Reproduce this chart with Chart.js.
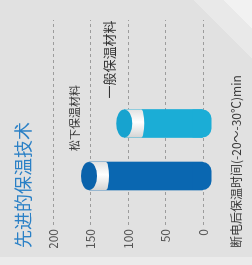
<!DOCTYPE html>
<html>
<head>
<meta charset="utf-8">
<script src="https://cdn.jsdelivr.net/npm/chart.js@4"></script>
<style>
  html, body { margin: 0; padding: 0; width: 252px; height: 265px; overflow: hidden; }
  body {
    background:
      linear-gradient(to bottom, rgba(255,255,255,0) 257px, rgba(255,255,255,0.35) 257px),
      linear-gradient(45deg, #e1e1e1 88.6%, #e9e9e9 88.6%, #e9e9e9 94.4%, #f2f2f2 94.4%);
  }
  /* 整张图逆时针转90度 */
  #wrap {
    position: absolute; left: 0; top: 0; width: 265px; height: 252px;
    transform-origin: 0 0; transform: translate(0, 265px) rotate(-90deg);
  }
</style>
</head>
<body>
<div id="wrap"><canvas id="chart" width="265" height="252"></canvas></div>
<script>
// 数据
const categories = ['松下保温材料', '一般保温材料'];
const values = [152, 105];
const yTicks = [0, 50, 100, 150, 200];
const barColors = ['#0a67b1', '#1badd6'];
const capColors = ['#0a62ab', '#17a3cf'];
const labelSizes = [11, 13];

const titleText = '先进的保温技术';
const axisText = '断电后保温时间(-20～-30℃)min';

Chart.defaults.font.family = '"Noto Sans CJK SC", "Noto Sans", sans-serif';

// 圆柱效果：底部圆角、白色盖子、顶面椭圆，以及柱子上方的名称
const cylinderPlugin = {
    id: 'cylinder',
    afterDatasetsDraw(chart) {
        const ctx = chart.ctx;
        const meta = chart.getDatasetMeta(0);
        const lid = 17;
        const capR = 8;
        meta.data.forEach((bar, i) => {
            const p = bar.getProps(['x', 'y', 'base', 'width'], true);
            const half = p.width / 2;
            const left = p.x - half;
            const right = p.x + half;
            ctx.save();

            // 底部圆角
            ctx.fillStyle = barColors[i];
            ctx.beginPath();
            ctx.roundRect(left, p.base - 10, p.width, 19, [0, 0, 9, 9]);
            ctx.fill();

            // 盖子
            const g = ctx.createLinearGradient(left, 0, right, 0);
            g.addColorStop(0, '#d4d4d4');
            g.addColorStop(0.55, '#ffffff');
            g.addColorStop(1, '#e2e2e2');
            ctx.fillStyle = g;
            ctx.fillRect(left, p.y, p.width, lid);
            ctx.beginPath();
            ctx.ellipse(p.x, p.y + lid, half, 3, 0, 0, Math.PI * 2);
            ctx.fill();

            // 顶面
            ctx.fillStyle = capColors[i];
            ctx.beginPath();
            ctx.ellipse(p.x, p.y, half, capR, 0, 0, Math.PI * 2);
            ctx.fill();

            // 名称
            ctx.fillStyle = '#333';
            ctx.font = labelSizes[i] + 'px "Noto Sans CJK SC"';
            ctx.textAlign = 'left';
            ctx.textBaseline = 'bottom';
            ctx.fillText(categories[i], p.x + 25, p.y - capR - 1);
            ctx.restore();
        });
    }
};

new Chart(document.getElementById('chart'), {
    type: 'bar',
    data: {
        datasets: [{
            data: values.map((v, i) => ({ x: i, y: v })),
            backgroundColor: barColors,
            borderWidth: 0,
            barThickness: 28
        }]
    },
    options: {
        responsive: false,
        animation: false,
        devicePixelRatio: 1,
        layout: { padding: { left: 17, right: 20, top: 0, bottom: 0 } },
        scales: {
            x: {
                type: 'linear',
                display: false,
                offset: false,
                grid: { offset: false },
                min: -0.933,
                max: 2.971
            },
            y: {
                min: 0,
                max: 200,
                afterBuildTicks: axis => { axis.ticks = yTicks.map(v => ({ value: v })); },
                afterFit: axis => { axis.width = 23; },
                grid: {
                    color: '#9c9c9c',
                    lineWidth: 1,
                    drawTicks: false
                },
                border: { display: false, dash: [3, 3] },
                ticks: {
                    font: { size: 12 },
                    color: '#555',
                    padding: 4
                }
            }
        },
        plugins: {
            legend: { display: false },
            tooltip: { enabled: false },
            title: {
                display: true,
                text: titleText,
                align: 'start',
                color: '#2a80c6',
                font: { size: 18, weight: 'normal' },
                padding: { top: 12, bottom: 19.4 }
            },
            subtitle: {
                display: true,
                text: axisText,
                position: 'bottom',
                align: 'start',
                color: '#3a3a3a',
                font: { size: 12 },
                padding: { top: 25.8, bottom: 8.8 }
            }
        }
    },
    plugins: [cylinderPlugin]
});
</script>
</body>
</html>
